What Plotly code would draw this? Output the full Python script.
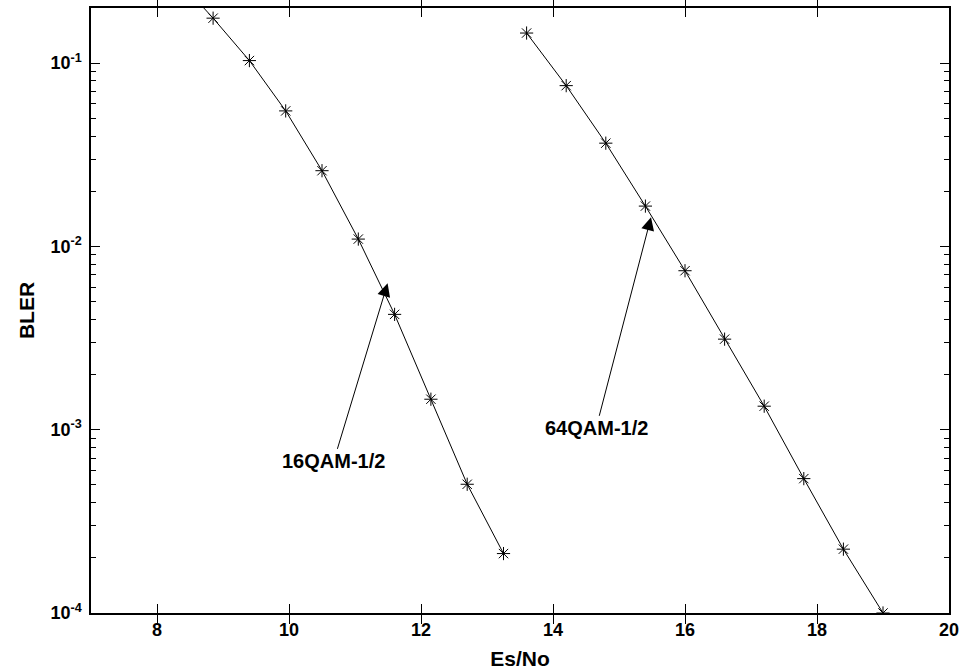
import math
import plotly.graph_objects as go

# 16QAM-1/2 curve
esno_16 = [8.3, 8.85, 9.4, 9.95, 10.5, 11.05, 11.6, 12.15, 12.7, 13.25]
bler_16 = [0.29, 0.176, 0.1033, 0.0549, 0.0259, 0.01097, 0.00426, 0.001467, 0.000504, 0.000211]

# 64QAM-1/2 curve
esno_64 = [13.6, 14.2, 14.8, 15.4, 16.0, 16.6, 17.2, 17.8, 18.4, 19.0]
bler_64 = [0.146, 0.0754, 0.0366, 0.0166, 0.00737, 0.00312, 0.001344, 0.000541, 0.000223, 0.0001]

x_ticks = [8, 10, 12, 14, 16, 18, 20]
y_tickvals = [1e-4, 1e-3, 1e-2, 1e-1]
y_ticktext = ["10<sup>-4</sup>", "10<sup>-3</sup>", "10<sup>-2</sup>", "10<sup>-1</sup>"]
y_minor = [m * 10.0 ** e for e in (-4, -3, -2, -1) for m in range(2, 10) if m * 10.0 ** e < 0.2]

labels = ["16QAM-1/2", "64QAM-1/2"]
label_pts = [(11.494, 0.00629), (15.485, 0.01442)]
label_offsets = [(-54, 178), (-55, 211)]

font_family = "Liberation Sans, Arial, sans-serif"
Y_RANGE = [-4, -0.699]

fig = go.Figure()
for xs, ys in [(esno_16, bler_16), (esno_64, bler_64)]:
    fig.add_trace(go.Scatter(
        x=xs, y=ys, mode="lines+markers",
        line=dict(color="black", width=1),
        marker=dict(symbol="asterisk-open", size=11, color="black",
                    line=dict(color="black", width=1)),
        showlegend=False,
    ))
# mirror axis for right-side minor ticks
fig.add_trace(go.Scatter(x=[esno_16[1]], y=[bler_16[1]], yaxis="y2", mode="markers",
                         marker=dict(opacity=0), showlegend=False, hoverinfo="skip"))

for text, (px, py), (ax, ay) in zip(labels, label_pts, label_offsets):
    fig.add_annotation(
        x=px, y=math.log10(py), xref="x", yref="y", text="<b>" + text + "</b>",
        showarrow=True, ax=ax, ay=ay, axref="pixel", ayref="pixel",
        arrowhead=2, arrowsize=2.6, arrowwidth=1, arrowcolor="black",
        font=dict(family=font_family, size=20, color="black"),
    )

axis_common = dict(
    showline=True, linecolor="black", linewidth=1.5,
    ticks="inside", tickcolor="black", tickwidth=1, showgrid=False, zeroline=False,
    tickfont=dict(family=font_family, size=18, color="black", weight="bold"),
    automargin=False,
)

fig.update_xaxes(
    range=[7, 20], tickvals=x_ticks, ticklen=9, mirror="allticks",
    title=dict(text="<b>Es/No</b>", font=dict(family=font_family, size=21, color="black"), standoff=12),
    **axis_common,
)
fig.update_yaxes(
    type="log", range=Y_RANGE, tickvals=y_tickvals, ticktext=y_ticktext, ticklen=9, mirror=True,
    minor=dict(ticks="inside", ticklen=5, tickcolor="black", tickwidth=1, showgrid=False,
               tickvals=y_minor),
    ticklabelstandoff=4,
    title=dict(text="<b>BLER</b>", font=dict(family=font_family, size=21, color="black"), standoff=10),
    **axis_common,
)
fig.update_layout(
    yaxis2=dict(
        type="log", range=Y_RANGE, overlaying="y", side="right",
        tickvals=y_tickvals, showticklabels=False, ticks="inside", ticklen=9,
        tickcolor="black", tickwidth=1, showgrid=False, zeroline=False, showline=False,
        minor=dict(ticks="inside", ticklen=5, tickcolor="black", tickwidth=1, showgrid=False,
                   tickvals=y_minor),
        automargin=False,
    ),
    width=963, height=672,
    margin=dict(l=91, r=14, t=8, b=59),
    plot_bgcolor="white", paper_bgcolor="white",
    font=dict(family=font_family, color="black"),
)

fig.write_html("out.html", config={"displayModeBar": False},
               post_script="document.body.style.margin='0';document.body.style.padding='0';")
